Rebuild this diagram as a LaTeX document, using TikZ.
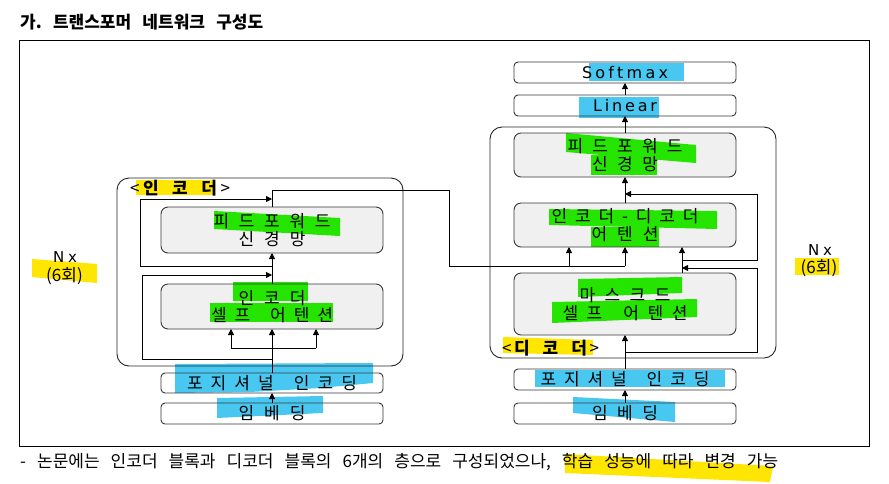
\documentclass[tikz,border=0pt]{standalone}
\usepackage{fontspec}
\setmainfont{Noto Sans CJK KR}
\newfontfamily\lat{DejaVu Sans}
\usetikzlibrary{arrows.meta}
\pgfdeclarelayer{bg}\pgfdeclarelayer{hl}\pgfsetlayers{bg,hl,main}
\definecolor{boxgray}{RGB}{240,240,240}
\definecolor{hlgreen}{RGB}{36,228,0}
\definecolor{hlblue}{RGB}{72,200,240}
\definecolor{hlyellow}{RGB}{255,230,0}
\frenchspacing
\def\sk{\hskip4pt}
\def\sprA#1{#1\sprB}
\def\sprB#1{\ifx\relax#1\else\hfil#1\expandafter\sprB\fi}
\newcommand\spr[2]{\makebox[#1][s]{\sprA#2\relax}}
\begin{document}
\begin{tikzpicture}[x=1pt,y=-1pt,
  box/.style={draw=black!78, line width=0.9pt, rounded corners=7pt, minimum width=222pt, inner sep=0pt, outer sep=0pt, align=center, font=\fontsize{17}{17.5}\selectfont},
  wbox/.style={box, rounded corners=4pt},
  outerbox/.style={draw=black!85, line width=0.9pt, rounded corners=12pt, minimum width=286pt, inner sep=0pt, outer sep=0pt},
  arr/.style={-{Triangle[length=6pt,width=6pt]}, line width=0.8pt},
  ln/.style={line width=0.8pt},
  lbl/.style={inner sep=0pt, outer sep=0pt, font=\fontsize{17}{17}\selectfont},
]
\useasboundingbox (0,0) rectangle (889,483);
\begin{pgfonlayer}{bg}
\fill[white] (0,0) rectangle (889,483);
\end{pgfonlayer}

% title and frame
\node[anchor=west, inner sep=0pt, font=\fontsize{17}{18}\selectfont\bfseries] (title) at (20,22) {\makebox[243pt][s]{가. 트랜스포머 네트워크 구성도}};
\node[draw, line width=1pt, minimum width=850pt, minimum height=406pt, inner sep=0pt, outer sep=0pt] (frame) at (444,243) {};
\node[anchor=west, inner sep=0pt, font=\fontsize{17}{18}\selectfont] (cap) at (20,462) {\makebox[758pt][s]{- 논문에는 인코더 블록과 디코더 블록의 6개의 층으로 구성되었으나, 학습 성능에 따라 변경 가능}};

% outer blocks
\node[outerbox, minimum height=188pt] (encOuter) at (260,272) {};
\node[outerbox, minimum height=231pt] (decOuter) at (633,242.5) {};

% encoder boxes
\node[box, minimum height=46pt] (encFFN) at (272,230) {\spr{117pt}{피드포워드}\\\spr{67pt}{신경망}};
\node[box, minimum height=45pt] (encAtt) at (272,306.5) {\spr{67pt}{인코더}\\\spr{122pt}{셀프\sk 어텐션}};
\node[wbox, minimum height=20pt] (encPE) at (272,383) {\spr{170pt}{포지셔널\sk 인코딩}};
\node[wbox, minimum height=21pt] (encEmb) at (272,413.5) {\spr{67pt}{임베딩}};

% decoder boxes
\node[wbox, minimum height=21pt, font=\fontsize{16}{16}\lat] (soft) at (625,72.5) {\spr{86pt}{Softmax}};
\node[wbox, minimum height=21pt, font=\fontsize{16}{16}\lat] (lin) at (625,105.5) {\spr{64pt}{Linear}};
\node[box, minimum height=44pt] (decFFN) at (625,155) {\spr{115pt}{피드포워드}\\\spr{66pt}{신경망}};
\node[box, minimum height=44pt] (decEDA) at (625,225) {\spr{147pt}{인코더-디코더}\\\spr{67pt}{어텐션}};
\node[box, minimum height=62pt] (decMask) at (625,304) {\spr{91pt}{마스크드}\\\spr{125pt}{셀프\sk 어텐션}};
\node[wbox, minimum height=21pt] (decPE) at (625,379.5) {\spr{169pt}{포지셔널\sk 인코딩}};
\node[wbox, minimum height=21pt] (decEmb) at (625,413.5) {\spr{66pt}{임베딩}};

% fills
\begin{pgfonlayer}{bg}
\foreach \n in {encFFN,encAtt,decFFN,decEDA,decMask}
  \fill[boxgray, rounded corners=7pt] (\n.south west) rectangle (\n.north east);
\end{pgfonlayer}

% labels
\node[lbl] (encLbl) at (180,188) {\makebox[100pt][s]{<\hfil\textbf{\spr{74pt}{인코더}}\hfil>}};
\node[lbl] (decLbl) at (550.5,348) {\makebox[97pt][s]{<\hfil\textbf{\spr{73pt}{디코더}}\hfil>}};
\node[lbl, font=\fontsize{15}{16}\lat] (nxL) at (65,257) {\spr{24pt}{Nx}};
\node[lbl] (sixL) at (64.5,276) {(6회)};
\node[lbl, font=\fontsize{15}{16}\lat] (nxR) at (820,250) {\spr{24pt}{Nx}};
\node[lbl] (sixR) at (819,268) {(6회)};

% highlights
\begin{pgfonlayer}{hl}
\fill[hlyellow] (136,180) rectangle (213,195);
\fill[hlgreen] (214,211) -- (340,218) -- (340,236) -- (214,229) -- cycle;
\fill[hlgreen] (233,282) rectangle (308,301);
\fill[hlgreen] (210,303) rectangle (333,322);
\fill[hlblue] (175,364) -- (373,363) -- (373,383) -- (320,388) -- (250,392) -- (175,393) -- cycle;
\fill[hlblue] (217,398) -- (323,396) -- (323,413) -- (217,418) -- cycle;
\fill[hlblue] (589,63) rectangle (684,81);
\fill[hlblue] (579,97) rectangle (659,118);
\fill[hlgreen] (566,133) -- (696,145) -- (696,163) -- (566,152) -- cycle;
\fill[hlgreen] (591,155) rectangle (657,175);
\fill[hlgreen] (549,209) -- (717,211) -- (717,229) -- (549,225) -- cycle;
\fill[hlgreen] (591,227) rectangle (659,247);
\fill[hlgreen] (578,279) -- (682,277) -- (682,293) -- (578,297) -- cycle;
\fill[hlgreen] (552,302) -- (697,299) -- (697,317) -- (552,323) -- cycle;
\fill[hlyellow] (503,337) -- (593,340) -- (593,355) -- (503,353) -- cycle;
\fill[hlblue] (535,370) rectangle (725,387);
\fill[hlblue] (573,397) -- (675,402) -- (675,422) -- (573,413) -- cycle;
\fill[hlyellow] (32,259) -- (97,264) -- (97,283) -- (32,277) -- cycle;
\fill[hlyellow] (795,258) rectangle (839,275);
\fill[hlyellow] (565,454) -- (773,466) -- (770,482) -- (565,473) -- cycle;
\end{pgfonlayer}

% encoder connectors
\coordinate (eBrL) at (231,348);
\coordinate (eBrR) at (316,348);
\coordinate (eAL) at (231,329);
\coordinate (eAR) at (316,329);
\draw[arr] (encEmb.north) -- (encPE.south);
\draw[arr] (encPE.north) -- (encAtt.south);
\draw[ln] (eBrL) -- (eBrR);
\draw[arr] (eBrL) -- (eAL);
\draw[arr] (eBrR) -- (eAR);
\coordinate (r1a) at (272,359);
\coordinate (r1b) at (142,359);
\coordinate (r1c) at (142,275);
\coordinate (r1d) at (272,275);
\draw[arr] (r1a) -- (r1b) -- (r1c) -- (r1d);
\draw[arr] (encAtt.north) -- (encFFN.south);
\coordinate (r2a) at (272,266);
\coordinate (r2b) at (140,266);
\coordinate (r2c) at (140,199);
\coordinate (r2d) at (272,199);
\draw[arr] (r2a) -- (r2b) -- (r2c) -- (r2d);
\coordinate (o1) at (272,190);
\coordinate (o2) at (449,190);
\coordinate (o3) at (449,266);
\coordinate (o4) at (569,266);
\coordinate (o5) at (625,266);
\coordinate (o4e) at (569,247);
\draw[ln] (encFFN.north) -- (o1) -- (o2) -- (o3) -- (o5);
\draw[arr] (o4) -- (o4e);
\draw[arr] (o5) -- (decEDA.south);

% decoder connectors
\draw[arr] (decEmb.north) -- (decPE.south);
\draw[arr] (decPE.north) -- (decMask.south);
\coordinate (d1a) at (625,352);
\coordinate (d1b) at (757,352);
\coordinate (d1c) at (757,268);
\coordinate (d1d) at (682,268);
\draw[arr] (d1a) -- (d1b) -- (d1c) -- (d1d);
\coordinate (mO) at (682,273);
\coordinate (mI) at (682,247);
\draw[arr] (mO) -- (mI);
\coordinate (d2a) at (682,260);
\coordinate (d2b) at (757,260);
\coordinate (d2c) at (757,194);
\coordinate (d2d) at (625,194);
\draw[arr] (d2a) -- (d2b) -- (d2c) -- (d2d);
\draw[arr] (decEDA.north) -- (decFFN.south);
\draw[arr] (decFFN.north) -- (lin.south);
\draw[arr] (lin.north) -- (soft.south);
\end{tikzpicture}
\end{document}
